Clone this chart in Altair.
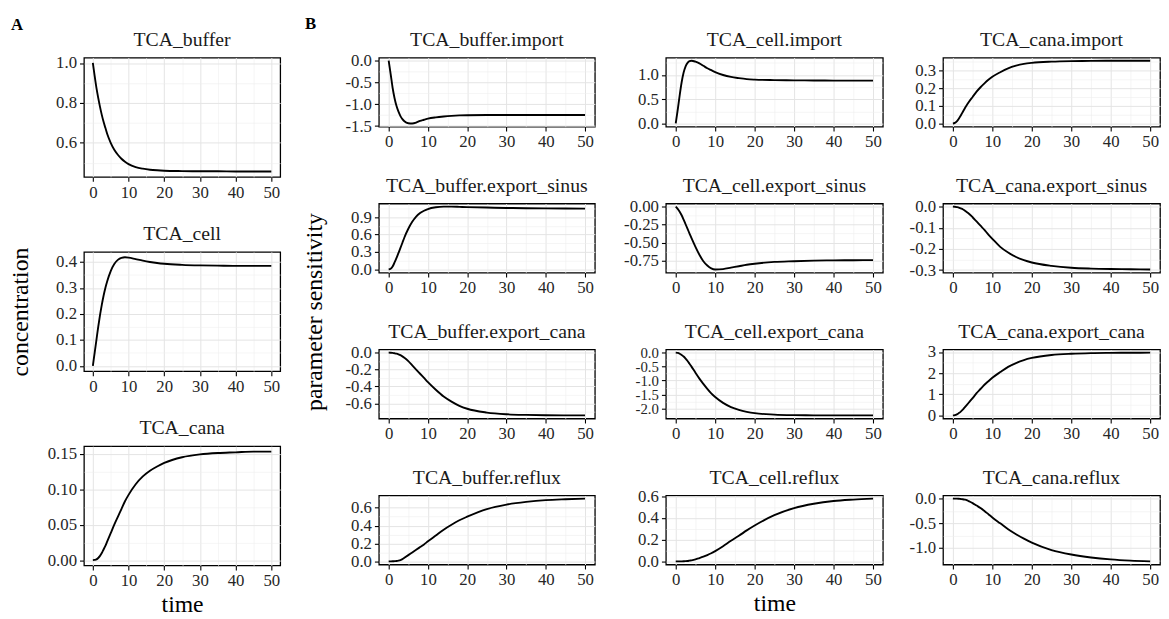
import altair as alt
import pandas as pd

# ---------------- data ----------------
T = [0, 0.5, 1, 1.5, 2, 2.5, 3, 3.5, 4, 5, 6, 7, 8, 9, 10, 12, 14, 16, 18, 20, 25, 30, 35, 40, 45, 50]

# panel A: concentrations
TCA_buffer = [1.0, 0.935, 0.875, 0.825, 0.78, 0.74, 0.705, 0.675, 0.645, 0.60, 0.565, 0.54, 0.52, 0.505, 0.493,
              0.478, 0.47, 0.465, 0.462, 0.46, 0.458, 0.457, 0.457, 0.456, 0.456, 0.456]
TCA_cell = [0.0, 0.05, 0.10, 0.15, 0.195, 0.235, 0.27, 0.30, 0.325, 0.365, 0.392, 0.408, 0.416, 0.418, 0.417,
            0.411, 0.405, 0.40, 0.396, 0.393, 0.389, 0.387, 0.386, 0.385, 0.385, 0.385]
TCA_cana = [0.0, 0.0003, 0.001, 0.003, 0.006, 0.01, 0.015, 0.02, 0.026, 0.038, 0.05, 0.061, 0.072, 0.083, 0.092,
            0.107, 0.118, 0.126, 0.132, 0.137, 0.145, 0.149, 0.151, 0.152, 0.153, 0.153]

# panel B: parameter sensitivities
buffer_import = [0.0, -0.3, -0.62, -0.86, -1.04, -1.17, -1.27, -1.34, -1.39, -1.435, -1.44, -1.42, -1.38, -1.355,
                 -1.33, -1.30, -1.28, -1.265, -1.255, -1.25, -1.246, -1.245, -1.245, -1.245, -1.245, -1.245]
cell_import = [0.0, 0.28, 0.58, 0.85, 1.05, 1.18, 1.25, 1.285, 1.295, 1.275, 1.24, 1.19, 1.14, 1.10, 1.06,
               1.0, 0.96, 0.935, 0.915, 0.905, 0.895, 0.89, 0.887, 0.885, 0.885, 0.885]
cana_import = [0.0, 0.003, 0.012, 0.027, 0.045, 0.065, 0.085, 0.103, 0.12, 0.15, 0.18, 0.205, 0.227, 0.247, 0.264,
               0.29, 0.312, 0.327, 0.337, 0.343, 0.35, 0.353, 0.354, 0.355, 0.355, 0.355]
buffer_export_sinus = [0.0, 0.012, 0.05, 0.12, 0.2, 0.285, 0.37, 0.46, 0.55, 0.7, 0.82, 0.91, 0.97, 1.01, 1.04,
                       1.07, 1.08, 1.08, 1.077, 1.073, 1.065, 1.058, 1.054, 1.05, 1.048, 1.047]
cell_export_sinus = [0.0, -0.03, -0.07, -0.12, -0.18, -0.245, -0.31, -0.375, -0.44, -0.56, -0.67, -0.76, -0.82,
                     -0.86, -0.875, -0.87, -0.85, -0.83, -0.81, -0.795, -0.77, -0.76, -0.752, -0.748, -0.746, -0.745]
cana_export_sinus = [0.0, -0.0005, -0.002, -0.004, -0.008, -0.012, -0.018, -0.025, -0.032, -0.05, -0.07, -0.09,
                     -0.11, -0.132, -0.152, -0.19, -0.217, -0.238, -0.253, -0.264, -0.28, -0.289, -0.293, -0.295,
                     -0.296, -0.297]
buffer_export_cana = [0.0, -0.0008, -0.003, -0.007, -0.012, -0.02, -0.03, -0.044, -0.06, -0.1, -0.15, -0.2, -0.25,
                      -0.3, -0.35, -0.44, -0.52, -0.58, -0.63, -0.665, -0.71, -0.73, -0.738, -0.742, -0.743, -0.744]
cell_export_cana = [0.0, -0.01, -0.04, -0.085, -0.14, -0.215, -0.3, -0.4, -0.5, -0.72, -0.93, -1.12, -1.3, -1.46,
                    -1.59, -1.8, -1.95, -2.05, -2.12, -2.17, -2.22, -2.24, -2.247, -2.25, -2.25, -2.25]
cana_export_cana = [0.0, 0.013, 0.05, 0.11, 0.18, 0.27, 0.38, 0.49, 0.6, 0.82, 1.05, 1.25, 1.45, 1.62, 1.78,
                    2.05, 2.3, 2.48, 2.62, 2.72, 2.86, 2.92, 2.95, 2.96, 2.965, 2.97]
buffer_reflux = [0.0, 0.0003, 0.001, 0.003, 0.005, 0.009, 0.015, 0.025, 0.04, 0.07, 0.1, 0.13, 0.16, 0.19, 0.225,
                 0.29, 0.355, 0.41, 0.46, 0.5, 0.585, 0.635, 0.665, 0.685, 0.695, 0.702]
cell_reflux = [0.0, 0.0, 0.0002, 0.0005, 0.001, 0.002, 0.004, 0.007, 0.01, 0.018, 0.03, 0.043, 0.058, 0.075, 0.095,
               0.14, 0.19, 0.235, 0.285, 0.33, 0.425, 0.49, 0.53, 0.555, 0.568, 0.577]
cana_reflux = [0.0, -0.0005, -0.001, -0.003, -0.008, -0.013, -0.02, -0.03, -0.05, -0.09, -0.14, -0.19, -0.25,
               -0.315, -0.38, -0.5, -0.62, -0.72, -0.81, -0.89, -1.04, -1.13, -1.19, -1.23, -1.255, -1.27]

# tick labels (major breaks)
X_TICKS = [0, 10, 20, 30, 40, 50]
Y_TCA_buffer = [0.6, 0.8, 1.0]
Y_TCA_cell = [0.0, 0.1, 0.2, 0.3, 0.4]
Y_TCA_cana = [0.0, 0.05, 0.10, 0.15]
Y_buffer_import = [-1.5, -1.0, -0.5, 0.0]
Y_cell_import = [0.0, 0.5, 1.0]
Y_cana_import = [0.0, 0.1, 0.2, 0.3]
Y_buffer_export_sinus = [0.0, 0.3, 0.6, 0.9]
Y_cell_export_sinus = [-0.75, -0.5, -0.25, 0.0]
Y_cana_export_sinus = [-0.3, -0.2, -0.1, 0.0]
Y_buffer_export_cana = [-0.6, -0.4, -0.2, 0.0]
Y_cell_export_cana = [-2.0, -1.5, -1.0, -0.5, 0.0]
Y_cana_export_cana = [0, 1, 2, 3]
Y_buffer_reflux = [0.0, 0.2, 0.4, 0.6]
Y_cell_reflux = [0.0, 0.2, 0.4, 0.6]
Y_cana_reflux = [-1.0, -0.5, 0.0]

# ---------------- styling ----------------
FONT = "Liberation Serif, Times New Roman, Times, DejaVu Serif, serif"
MAJOR_GRID = "#e4e4e4"
MINOR_GRID = "#eeeeee"
LABEL_SIZE = 17
TITLE_SIZE = 20
AXTITLE_SIZE = 24
MINUS = "\u2212"


def x_axis(title=None, **kw):
    test = "datum.value % 10 == 0"
    minors = [v + 5 for v in X_TICKS[:-1]]
    return alt.Axis(
        values=sorted(X_TICKS + minors),
        labelExpr=f"{test} ? datum.label : ''",
        gridColor={"condition": {"test": test, "value": MAJOR_GRID}, "value": MINOR_GRID},
        gridWidth={"condition": {"test": test, "value": 1.0}, "value": 0.6},
        tickOpacity={"condition": {"test": test, "value": 1}, "value": 0},
        title=title, domain=False, labelOverlap=False, labelFlush=False, **kw)


def y_axis(majors, fmt, dom, title=None, **kw):
    step = majors[1] - majors[0]
    minors = [round(m + step / 2, 6) for m in majors[:-1]]
    lo_c = round(majors[0] - step / 2, 6)
    hi_c = round(majors[-1] + step / 2, 6)
    if lo_c >= dom[0]:
        minors.append(lo_c)
    if hi_c <= dom[1]:
        minors.append(hi_c)
    arr = "[" + ",".join(repr(float(m)) for m in majors) + "]"
    test = f"indexof({arr}, datum.value) >= 0"
    return alt.Axis(
        values=sorted([float(m) for m in majors] + minors),
        labelExpr=f"{test} ? replace(format(datum.value, '{fmt}'), '{MINUS}', '-') : ''",
        gridColor={"condition": {"test": test, "value": MAJOR_GRID}, "value": MINOR_GRID},
        gridWidth={"condition": {"test": test, "value": 1.0}, "value": 0.6},
        tickOpacity={"condition": {"test": test, "value": 1}, "value": 0},
        title=title, domain=False, labelOverlap=False, labelFlush=False, **kw)


def panel(name, vals, majors, fmt, w, h, ykw=None, xkw=None, tag=None):
    df = pd.DataFrame({"time": T, "value": vals})
    lo, hi = min(vals), max(vals)
    pad = 0.05 * (hi - lo)
    dom = [lo - pad, hi + pad]
    line = alt.Chart(df).mark_line(color="black", strokeWidth=1.9, interpolate="monotone").encode(
        x=alt.X("time:Q", scale=alt.Scale(domain=[-2.5, 52.5], nice=False, zero=False),
                axis=x_axis(**(xkw or {}))),
        y=alt.Y("value:Q", scale=alt.Scale(domain=dom, nice=False, zero=False),
                axis=y_axis(majors, fmt, dom, **(ykw or {}))),
    )
    # panel name (strip title) drawn as text above the panel
    ttl = alt.Chart(pd.DataFrame({"name": [name]})).mark_text(
        font=FONT, fontSize=TITLE_SIZE, align="center", baseline="middle", color="#1a1a1a"
    ).encode(text="name:N", x=alt.value(w / 2), y=alt.value(-18))
    layers = [line, ttl]
    if tag is not None:
        txt = alt.Chart(pd.DataFrame({"tag": [tag[0]]})).mark_text(
            font=FONT, fontSize=17, fontWeight="bold", align="left", baseline="middle", color="black",
            opacity=tag[3]
        ).encode(text="tag:N", x=alt.value(tag[1]), y=alt.value(tag[2]))
        layers.append(txt)
    return alt.layer(*layers).properties(width=w, height=h)


AW, AH = 199, 121
a1 = panel("TCA_buffer", TCA_buffer, Y_TCA_buffer, ".1f", AW, AH, tag=("A", -74, -33, 1))
a2 = panel("TCA_cell", TCA_cell, Y_TCA_cell, ".1f", AW, AH,
           ykw=dict(title="concentration", titleX=-64, titleY=AH / 2, titleBaseline="middle"))
a3 = panel("TCA_cana", TCA_cana, Y_TCA_cana, ".2f", AW, AH, xkw=dict(title="time", titlePadding=4))
colA = alt.vconcat(a1, a2, a3, spacing=76, bounds="flush")

BH = 70
b11 = panel("TCA_buffer.import", buffer_import, Y_buffer_import, ".1f", 219, BH, tag=("B", -75, -34, 1))
b21 = panel("TCA_buffer.export_sinus", buffer_export_sinus, Y_buffer_export_sinus, ".1f", 219, BH,
            ykw=dict(title="parameter sensitivity", titleX=-65, titleY=109.5, titleBaseline="middle"))
b31 = panel("TCA_buffer.export_cana", buffer_export_cana, Y_buffer_export_cana, ".1f", 219, BH)
b41 = panel("TCA_buffer.reflux", buffer_reflux, Y_buffer_reflux, ".1f", 219, BH)

b12 = panel("TCA_cell.import", cell_import, Y_cell_import, ".1f", 220, BH, tag=("B", 0, -34, 0))
b22 = panel("TCA_cell.export_sinus", cell_export_sinus, Y_cell_export_sinus, ".2f", 220, BH)
b32 = panel("TCA_cell.export_cana", cell_export_cana, Y_cell_export_cana, ".1f", 220, BH,
            ykw=dict(labelFontSize=15))
b42 = panel("TCA_cell.reflux", cell_reflux, Y_cell_reflux, ".1f", 220, BH,
            xkw=dict(title="time", titlePadding=4))

b13 = panel("TCA_cana.import", cana_import, Y_cana_import, ".1f", 220, BH, tag=("B", 0, -34, 0))
b23 = panel("TCA_cana.export_sinus", cana_export_sinus, Y_cana_export_sinus, ".1f", 220, BH)
b33 = panel("TCA_cana.export_cana", cana_export_cana, Y_cana_export_cana, "d", 220, BH)
b43 = panel("TCA_cana.reflux", cana_reflux, Y_cana_reflux, ".1f", 220, BH)

col1 = alt.vconcat(b11, b21, b31, b41, spacing=78, bounds="flush")
col2 = alt.vconcat(b12, b22, b32, b42, spacing=78, bounds="flush")
col3 = alt.vconcat(b13, b23, b33, b43, spacing=78, bounds="flush")
colB = alt.hconcat(col1, alt.hconcat(col2, col3, spacing=24), spacing=27)

chart = alt.hconcat(colA, colB, spacing=21).properties(
    padding={"left": 0, "top": 2, "right": 0, "bottom": 0}, background="white"
).configure_view(
    stroke="black", strokeWidth=1.3
).configure_axis(
    labelFont=FONT, labelFontSize=LABEL_SIZE, labelColor="#262626", labelPadding=3,
    tickColor="black", tickSize=4.5, tickWidth=1.1,
    titleFont=FONT, titleFontSize=AXTITLE_SIZE, titleFontWeight="normal", titleColor="black",
)

chart.save("out.html", embed_options={"renderer": "svg", "actions": False})
